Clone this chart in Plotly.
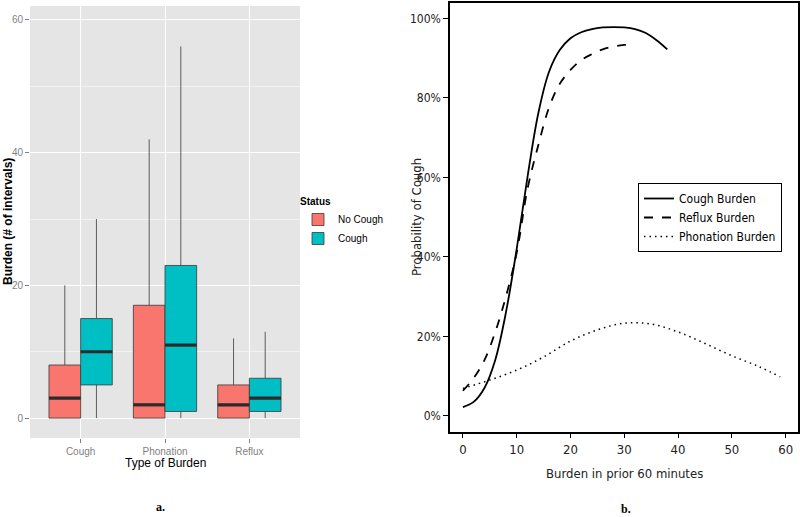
import plotly.graph_objects as go

# ---------------- Panel a data (box statistics) ----------------
categories = ["Cough", "Phonation", "Reflux"]
statuses = ["No Cough", "Cough"]
status_colors = ["#F8766D", "#00BFC4"]

nocough_lower = [0, 0, 0]
nocough_q1 = [0, 0, 0]
nocough_median = [3, 2, 2]
nocough_q3 = [8, 17, 5]
nocough_upper = [20, 42, 12]

cough_lower = [0, 0, 0]
cough_q1 = [5, 1, 1]
cough_median = [10, 11, 3]
cough_q3 = [15, 23, 6]
cough_upper = [30, 56, 13]

# ---------------- Panel b data (probability curves) ----------------
cough_burden_x = [0, 2, 4, 6, 8, 10, 12, 14, 16, 18, 20, 22, 24, 26, 28, 30, 32, 34, 36, 38]
cough_burden_p = [0.022, 0.035, 0.07, 0.14, 0.26, 0.42, 0.60, 0.76, 0.865, 0.92, 0.95, 0.965,
                  0.973, 0.977, 0.978, 0.977, 0.973, 0.963, 0.945, 0.922]

reflux_burden_x = [0, 2, 4, 6, 8, 10, 12, 14, 16, 18, 20, 22, 24, 26, 28, 30, 32]
reflux_burden_p = [0.063, 0.095, 0.14, 0.21, 0.30, 0.41, 0.57, 0.68, 0.775, 0.835, 0.87, 0.895,
                   0.91, 0.922, 0.929, 0.933, 0.935]

phon_burden_x = [0, 5, 10, 15, 20, 25, 30, 35, 40, 45, 50, 55, 59]
phon_burden_p = [0.069, 0.09, 0.115, 0.148, 0.188, 0.216, 0.233, 0.231, 0.211, 0.182, 0.151, 0.124, 0.098]

x_ticks_b = [0, 10, 20, 30, 40, 50, 60]
y_ticks_b = [0, 0.2, 0.4, 0.6, 0.8, 1.0]
y_ticks_a = [0, 20, 40, 60]

fig = go.Figure()

BOXW = 0.375
idx = list(range(len(categories)))
stats = [
    (nocough_lower, nocough_q1, nocough_median, nocough_q3, nocough_upper),
    (cough_lower, cough_q1, cough_median, cough_q3, cough_upper),
]
for k, (name, color, st) in enumerate(zip(statuses, status_colors, stats)):
    lo, q1, med, q3, up = st
    off = -BOXW / 2 if k == 0 else BOXW / 2
    xs = [i + off for i in idx]
    fig.add_trace(go.Box(
        x=xs, q1=q1, median=med, q3=q3, lowerfence=lo, upperfence=up,
        name=name, width=BOXW, fillcolor=color,
        line=dict(color="#3a3a3a", width=0.8), whiskerwidth=0,
        boxpoints=False, xaxis="x", yaxis="y", legend="legend",
    ))
    # thick median bars
    mx, my = [], []
    for x0, m in zip(xs, med):
        mx += [x0 - BOXW / 2, x0 + BOXW / 2, None]
        my += [m, m, None]
    fig.add_trace(go.Scatter(x=mx, y=my, mode="lines", line=dict(color="#2b2b2b", width=3.2),
                             showlegend=False, hoverinfo="skip", xaxis="x", yaxis="y"))

# panel b curves
fig.add_trace(go.Scatter(x=cough_burden_x, y=cough_burden_p, mode="lines", name="Cough Burden",
                         line=dict(color="black", width=1.8, shape="spline"),
                         xaxis="x2", yaxis="y2", legend="legend2"))
fig.add_trace(go.Scatter(x=reflux_burden_x, y=reflux_burden_p, mode="lines", name="Reflux Burden",
                         line=dict(color="black", width=1.8, dash="dash", shape="spline"),
                         xaxis="x2", yaxis="y2", legend="legend2"))
fig.add_trace(go.Scatter(x=phon_burden_x, y=phon_burden_p, mode="lines", name="Phonation Burden",
                         line=dict(color="black", width=1.5, dash="1.5px,4px", shape="spline"),
                         xaxis="x2", yaxis="y2", legend="legend2"))

W, H = 800, 517
def px(x):
    return x / W
def py(y):
    return 1 - y / H

grey = "#7F7F7F"
sans = "Liberation Sans, Arial, sans-serif"
narrow = "DejaVu Sans Condensed, Liberation Sans Narrow, Liberation Sans, Arial, sans-serif"

fig.update_layout(
    width=W, height=H,
    margin=dict(l=0, r=0, t=0, b=0),
    paper_bgcolor="white", plot_bgcolor="rgba(0,0,0,0)",
    showlegend=True,
    xaxis=dict(domain=[px(30), px(300)], range=[-0.6, 2.6], anchor="y",
               tickvals=idx, ticktext=categories,
               showgrid=True, gridcolor="white", gridwidth=1.2,
               zeroline=False, showline=False,
               ticks="outside", ticklen=4, tickcolor=grey,
               tickfont=dict(family=sans, size=10, color=grey)),
    yaxis=dict(domain=[py(438), py(6)], range=[-3, 62.1], anchor="x",
               tickvals=y_ticks_a,
               showgrid=True, gridcolor="white", gridwidth=1.2,
               minor=dict(dtick=10, tick0=0, showgrid=True, gridcolor="#F2F2F2", gridwidth=0.6),
               zeroline=False, showline=False,
               ticks="outside", ticklen=4, tickcolor=grey,
               tickfont=dict(family=sans, size=10, color=grey)),
    xaxis2=dict(domain=[px(450), px(798)], range=[-2.4, 62.3], anchor="y2",
                tickvals=x_ticks_b, showgrid=False, zeroline=False,
                showline=True, mirror=True, linecolor="black", linewidth=1.5,
                ticks="outside", ticklen=5, tickcolor="black", tickwidth=1,
                tickfont=dict(family=narrow, size=13, color="#222")),
    yaxis2=dict(domain=[py(431.7), py(3)], range=[-0.04, 1.0385], anchor="x2",
                tickvals=y_ticks_b, tickformat=".0%", showgrid=False, zeroline=False,
                showline=True, mirror=True, linecolor="black", linewidth=1.5,
                ticks="outside", ticklen=5, tickcolor="black", tickwidth=1,
                tickfont=dict(family=narrow, size=12, color="#222")),
    legend=dict(x=px(298), y=py(192), xanchor="left", yanchor="top",
                title=dict(text="<b>Status</b>", font=dict(family=sans, size=10, color="black")),
                font=dict(family=sans, size=10, color="black"),
                bgcolor="rgba(0,0,0,0)", tracegroupgap=0, itemwidth=30),
    legend2=dict(x=px(782), y=py(183), xanchor="right", yanchor="top",
                 font=dict(family=narrow, size=12, color="black"),
                 bgcolor="white", bordercolor="black", borderwidth=1, itemwidth=30),
    shapes=[dict(type="rect", xref="x domain", yref="y domain", x0=0, x1=1, y0=0, y1=1,
                 fillcolor="#E5E5E5", line=dict(width=0), layer="below")],
    annotations=[
        dict(text="<b>Burden (# of intervals)</b>", x=px(8), y=py(222), xref="paper", yref="paper",
             xanchor="center", yanchor="middle",
             textangle=-90, showarrow=False, font=dict(family=sans, size=12, color="black")),
        dict(text="Type of Burden", x=px(165), y=py(463), xref="paper", yref="paper",
             xanchor="center", yanchor="middle",
             showarrow=False, font=dict(family=sans, size=12, color="black")),
        dict(text="Probability of Cough", x=px(417), y=py(217), xref="paper", yref="paper",
             xanchor="center", yanchor="middle",
             textangle=-90, showarrow=False, font=dict(family=narrow, size=13, color="#222")),
        dict(text="Burden in prior 60 minutes", x=px(624), y=py(473), xref="paper", yref="paper",
             xanchor="center", yanchor="middle",
             showarrow=False, font=dict(family=narrow, size=13, color="#222")),
        dict(text="<b>a.</b>", x=px(160), y=py(507), xref="paper", yref="paper",
             xanchor="center", yanchor="middle",
             showarrow=False, font=dict(family="Liberation Serif, DejaVu Serif, serif", size=12, color="black")),
        dict(text="<b>b.</b>", x=px(626), y=py(509), xref="paper", yref="paper",
             xanchor="center", yanchor="middle",
             showarrow=False, font=dict(family="Liberation Serif, DejaVu Serif, serif", size=12, color="black")),
    ],
)

fig.write_html("out.html", config={"displayModeBar": False},
               post_script="document.body.style.margin='0';document.body.style.overflow='hidden';")
